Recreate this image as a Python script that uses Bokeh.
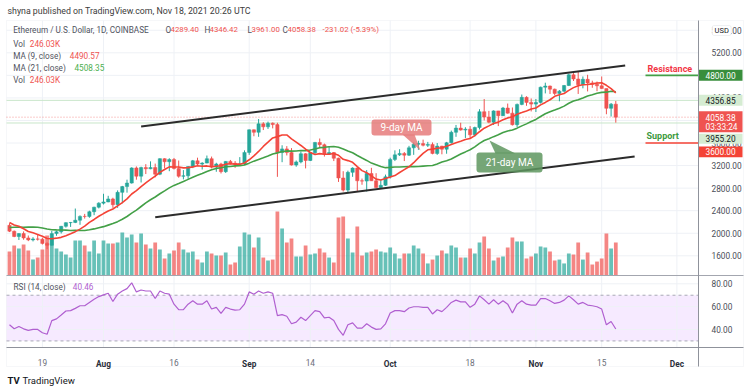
import numpy as np
import pandas as pd
from bokeh.plotting import figure
from bokeh.models import ColumnDataSource, Range1d, FixedTicker, BoxAnnotation, Label, LinearAxis
from bokeh.embed import file_html
from bokeh.resources import INLINE

# ---------------- data (ETH/USD daily, Coinbase) ----------------
start_date = "2021-07-12"

opens = [2141, 2036, 1942, 1994, 1917, 1882, 1899, 1895, 1820, 1787,
         1994, 2026, 2123, 2188, 2191, 2231, 2299, 2298, 2382, 2462,
         2534, 2555, 2608, 2506, 2725, 2827, 2890, 3158, 3012, 3164,
         3143, 3165, 3048, 3323, 3268, 3307, 3149, 3011, 3018, 3183,
         3285, 3226, 3244, 3322, 3173, 3228, 3092, 3274, 3242, 3225,
         3227, 3433, 3834, 3790, 3940, 3887, 3952, 3927, 3431, 3496,
         3430, 3209, 3265, 3410, 3290, 3428, 3610, 3570, 3400, 3430,
         3330, 2980, 2765, 3080, 3155, 2930, 2925, 3060, 2930, 2810,
         2850, 3000, 3310, 3390, 3415, 3385, 3515, 3580, 3590, 3560,
         3575, 3415, 3545, 3490, 3605, 3790, 3865, 3830, 3845, 3745,
         3875, 4155, 4060, 3970, 4170, 4085, 4220, 4130, 3925, 4285,
         4410, 4320, 4290, 4320, 4590, 4610, 4555, 4480, 4520, 4620,
         4810, 4735, 4635, 4730, 4665, 4642, 4615, 4565, 4215, 4289.40]

highs = [2178, 2048, 2000, 2033, 1960, 1930, 1985, 1920, 1840, 2040,
         2044, 2130, 2195, 2200, 2438, 2317, 2343, 2400, 2470, 2550,
         2700, 2664, 2630, 2760, 2840, 2950, 3170, 3185, 3180, 3225,
         3275, 3235, 3330, 3330, 3330, 3335, 3290, 3120, 3190, 3300,
         3340, 3260, 3378, 3360, 3250, 3250, 3280, 3300, 3280, 3350,
         3470, 3840, 3840, 4025, 3970, 3980, 3965, 3960, 3560, 3545,
         3510, 3290, 3450, 3420, 3440, 3620, 3680, 3590, 3530, 3440,
         3340, 3100, 3110, 3170, 3170, 2970, 3120, 3160, 3065, 2950,
         3040, 3340, 3470, 3490, 3440, 3550, 3610, 3640, 3660, 3620,
         3610, 3600, 3550, 3620, 3820, 3920, 3960, 3880, 3900, 3890,
         4200, 4380, 4170, 4180, 4170, 4240, 4300, 4230, 4300, 4460,
         4430, 4390, 4380, 4600, 4670, 4620, 4565, 4540, 4630, 4830,
         4840, 4870, 4780, 4810, 4705, 4690, 4780, 4565, 4310, 4346.42]

lows = [2021, 1930, 1880, 1885, 1860, 1855, 1870, 1800, 1718, 1780,
        1955, 1995, 2100, 2112, 2180, 2150, 2260, 2274, 2320, 2440,
        2510, 2550, 2450, 2450, 2530, 2720, 2880, 2950, 2900, 3050,
        3135, 2990, 3030, 3150, 3100, 3130, 2985, 2955, 2950, 3155,
        3200, 3130, 3240, 3150, 3090, 3060, 3070, 3220, 3160, 3200,
        3210, 3390, 3720, 3710, 3830, 3850, 3860, 3000, 3260, 3380,
        3200, 3180, 3240, 3150, 3280, 3400, 3510, 3360, 3390, 3280,
        2910, 2740, 2720, 3000, 2750, 2860, 2740, 2930, 2800, 2790,
        2840, 2970, 3280, 3370, 3280, 3370, 3390, 3480, 3540, 3530,
        3400, 3390, 3400, 3410, 3590, 3710, 3820, 3690, 3680, 3715,
        3840, 4000, 3950, 3920, 3900, 4080, 4120, 3910, 3880, 4270,
        4260, 4160, 4150, 4300, 4480, 4470, 4450, 4340, 4500, 4610,
        4700, 4470, 4570, 4515, 4580, 4520, 4560, 4110, 4070, 3961.00]

closes = [2036, 1942, 1994, 1917, 1882, 1899, 1895, 1820, 1787, 1994,
          2026, 2123, 2188, 2191, 2231, 2299, 2298, 2382, 2462, 2534,
          2555, 2608, 2506, 2725, 2827, 2890, 3158, 3012, 3164, 3143,
          3165, 3048, 3323, 3268, 3307, 3149, 3011, 3018, 3183, 3285,
          3226, 3244, 3322, 3173, 3228, 3092, 3274, 3242, 3225, 3227,
          3433, 3834, 3790, 3940, 3887, 3952, 3927, 3431, 3496, 3430,
          3209, 3265, 3410, 3290, 3428, 3610, 3570, 3400, 3430, 3330,
          2980, 2765, 3080, 3155, 2930, 2925, 3060, 2930, 2810, 2850,
          3000, 3310, 3390, 3415, 3385, 3515, 3580, 3590, 3560, 3575,
          3415, 3545, 3490, 3605, 3790, 3865, 3830, 3845, 3745, 3875,
          4155, 4060, 3970, 4170, 4085, 4220, 4130, 3925, 4285, 4410,
          4320, 4290, 4320, 4590, 4610, 4555, 4480, 4520, 4620, 4810,
          4735, 4635, 4730, 4665, 4642, 4615, 4565, 4215, 4289.40, 4058.38]

# closes of the 20 sessions before the window (for the moving averages)
closes_before = [1870, 1970, 1990, 1810, 1830, 1980, 2085, 2165, 2275, 2110,
                 2150, 2225, 2320, 2200, 2325, 2315, 2115, 2145, 2110, 2140]

volumes_k = [179, 224, 201, 231, 187, 119, 134, 194, 299, 284,
             201, 179, 157, 134, 261, 261, 224, 179, 261, 164,
             261, 239, 239, 246, 321, 284, 306, 246, 313, 231,
             201, 246, 194, 127, 164, 187, 246, 194, 172, 179,
             119, 97, 179, 164, 149, 149, 172, 82, 97, 216,
             321, 306, 209, 284, 134, 112, 119, 478, 351, 246,
             276, 142, 142, 224, 157, 164, 201, 172, 134, 97,
             433, 440, 276, 172, 366, 149, 172, 179, 194, 179,
             172, 209, 164, 127, 164, 164, 224, 201, 164, 90,
             119, 149, 187, 164, 224, 209, 134, 134, 201, 164,
             246, 291, 201, 112, 134, 142, 209, 284, 254, 254,
             127, 142, 164, 216, 209, 179, 112, 119, 90, 164,
             157, 246, 119, 172, 82, 104, 127, 313, 201, 246.03]

rsi_values = [44.1, 40.6, 42.7, 40.6, 39.2, 40.1, 40.1, 37.2, 35.8, 47.8,
              49.3, 52.7, 56.2, 56.5, 58.5, 60.8, 60.8, 63.7, 66.5, 68.8,
              70.3, 71.7, 64.5, 70.9, 73.7, 75.8, 80.9, 72.9, 74.6, 73.7,
              73.7, 67.1, 73.7, 71.7, 70.9, 62.2, 57.3, 57.3, 62.2, 65.1,
              62.2, 62.2, 65.1, 57.9, 59.4, 54.2, 59.4, 57.9, 57.0, 57.3,
              62.2, 72.9, 70.9, 73.7, 71.7, 72.9, 71.7, 52.2, 53.0, 51.6,
              45.0, 46.4, 50.7, 47.8, 52.2, 56.5, 55.6, 50.1, 50.7, 47.8,
              40.1, 34.9, 44.1, 45.8, 41.2, 41.2, 45.0, 42.1, 40.1, 40.6,
              45.0, 54.5, 56.5, 56.5, 55.6, 58.8, 59.9, 59.9, 59.4, 59.4,
              53.6, 57.3, 55.6, 59.4, 63.7, 65.7, 64.2, 64.2, 59.4, 62.2,
              69.4, 66.0, 62.2, 66.0, 62.2, 65.1, 62.2, 54.5, 62.2, 65.1,
              62.2, 61.4, 61.4, 67.1, 67.1, 65.1, 62.8, 63.7, 65.7, 69.4,
              66.0, 62.2, 63.7, 61.4, 60.8, 59.9, 57.9, 44.1, 47.0, 40.46]

# legend readings shown in the header
legend_ma9 = 4490.57
legend_ma21 = 4508.35

day_tick_dates = ["2021-07-19", "2021-08-16", "2021-09-14", "2021-10-18", "2021-11-15"]
day_tick_labels = ["19", "16", "14", "18", "15"]
month_tick_dates = ["2021-08-01", "2021-09-01", "2021-10-01", "2021-11-01", "2021-12-01"]
month_tick_labels = ["Aug", "Sep", "Oct", "Nov", "Dec"]
price_ticks = [1600, 2000, 2400, 2800, 3200, 3600, 4000, 4400, 4800, 5200, 5600]
rsi_ticks = [40, 60, 80]
rsi_band = [30, 70]

# annotation levels / lines
resistance_level = 4800
support_level = 3600
level_lines = [4356.85, 3955.20]
last_price = 4058.38
channel_upper_dates = ["2021-08-09", "2021-11-20"]
channel_upper_prices = [3893, 4975]
channel_lower_dates = ["2021-08-12", "2021-11-22"]
channel_lower_prices = [2285, 3361]

for arr in (opens, highs, lows, closes, volumes_k, rsi_values):
    assert len(arr) == 130, len(arr)

# ---------------- geometry (plot frame fills the whole canvas) ----------------
W, H = 748, 390
DAY0_PX, PX_PER_DAY = 9.0, 4.7            # x pixel of first session, pixels per day
PRICE_REF, PRICE_REF_PY, PX_PER_PRICE = 5200.0, 52.3, 0.056389
RSI_REF, RSI_REF_PY, PX_PER_RSI = 80.0, 283.3, 1.1425
VOL_ZERO_PY, PX_PER_VOL = 275.0, 0.134

XA, XB = (0 - DAY0_PX) / PX_PER_DAY, (W - DAY0_PX) / PX_PER_DAY
PT = PRICE_REF + PRICE_REF_PY / PX_PER_PRICE
PB = PRICE_REF - (H - PRICE_REF_PY) / PX_PER_PRICE
RT = RSI_REF + RSI_REF_PY / PX_PER_RSI
RB = RSI_REF - (H - RSI_REF_PY) / PX_PER_RSI
VT = VOL_ZERO_PY / PX_PER_VOL
VB = -(H - VOL_ZERO_PY) / PX_PER_VOL

CHART_L, CHART_R, OUTER_R = 6, 698, 743
PANEL_T, PANEL_SEP, PANEL_B, CHART_B = 20, 275, 347, 366


def X(px):
    return XA + px * (XB - XA) / W


def Y(py):
    return PT - py * (PT - PB) / H


def PY(price):
    return (PT - price) * H / (PT - PB)


def rsi_in_price(r):
    return PB + (r - RB) / (RT - RB) * (PT - PB)


start = pd.Timestamp(start_date)
dates = pd.date_range(start_date, periods=len(closes), freq="D")
xs = np.asarray((dates - start).days, dtype=float)


def day(d):
    return float((pd.Timestamp(d) - start).days)


UP, DOWN = "#26a69a", "#ef5350"
o = np.array(opens, float)
c = np.array(closes, float)
colors = [UP if cc >= oo else DOWN for oo, cc in zip(o, c)]
all_c = pd.Series(closes_before + list(closes), dtype=float)
ma9 = all_c.rolling(9).mean().to_numpy()[len(closes_before):]
ma21 = all_c.rolling(21).mean().to_numpy()[len(closes_before):]

src = ColumnDataSource(dict(
    x=xs, open=o, close=c, high=highs, low=lows,
    top=np.maximum(o, c), bot=np.minimum(o, c), color=colors,
    vol=volumes_k, rsi=rsi_values, ma9=ma9, ma21=ma21))

p = figure(width=W, height=H, x_range=Range1d(XA, XB), y_range=Range1d(PB, PT),
           y_axis_location="right", output_backend="svg", toolbar_location=None,
           title=None, min_border=0, min_border_left=0, min_border_right=0,
           min_border_top=0, min_border_bottom=0,
           background_fill_color="white", border_fill_color="white")
p.outline_line_color = None
p.extra_y_ranges = {"vol": Range1d(VB, VT), "rsi": Range1d(RB, RT)}
p.xgrid.visible = False
p.ygrid.visible = False

FONT = "Roboto"
GRID = "#eef1f6"
AXIS = "#8f929b"
SEP = "#a3a6af"
LABEL_COLOR = "#4a4d57"

# ---- price / RSI scale (fixed position inside the canvas)
yax = p.yaxis[0]
yax.fixed_location = X(CHART_R)
yax.bounds = (Y(CHART_B), Y(PANEL_T))
rsi_pos = [int(round(rsi_in_price(r))) for r in rsi_ticks]
yax.ticker = FixedTicker(ticks=price_ticks + rsi_pos, minor_ticks=[])
overrides = {t: f"{t:.2f}" for t in price_ticks}
overrides.update({pos: f"{r:.2f}" for pos, r in zip(rsi_pos, rsi_ticks)})
yax.major_label_overrides = overrides
yax.major_tick_line_color = None
yax.minor_tick_line_color = None
yax.major_label_standoff = 7
yax.axis_line_color = AXIS
yax.major_label_text_font = FONT
yax.major_label_text_font_size = "8.3px"
yax.major_label_text_color = LABEL_COLOR

# ---- time scale: day numbers (normal) and month names (bold)
day_pos = [int(day(d)) for d in day_tick_dates]
month_pos = [int(day(d)) for d in month_tick_dates]
xax = p.xaxis[0]
xax.fixed_location = Y(PANEL_B)
xax.bounds = (X(CHART_L), X(OUTER_R))
xax.ticker = FixedTicker(ticks=day_pos, minor_ticks=[])
xax.major_label_overrides = {t: lab for t, lab in zip(day_pos, day_tick_labels)}
xax.major_tick_line_color = None
xax.minor_tick_line_color = None
xax.major_label_standoff = 5
xax.axis_line_color = AXIS
xax.major_label_text_font = FONT
xax.major_label_text_font_size = "8.3px"
xax.major_label_text_color = "#6a6d78"

max_ = LinearAxis(fixed_location=Y(PANEL_B), ticker=FixedTicker(ticks=month_pos, minor_ticks=[]),
                  major_label_overrides={t: lab for t, lab in zip(month_pos, month_tick_labels)},
                  axis_line_color=None, major_tick_line_color=None, minor_tick_line_color=None,
                  major_label_standoff=5, major_label_text_font=FONT,
                  major_label_text_font_size="8.3px", major_label_text_font_style="bold",
                  major_label_text_color="#2a2e39")
p.add_layout(max_, "below")

all_x_pos = sorted(day_pos + month_pos)

# ---- RSI band
p.add_layout(BoxAnnotation(left=X(CHART_L), right=X(CHART_R), bottom=rsi_band[0], top=rsi_band[1],
                           y_range_name="rsi", fill_color="#9915ff", fill_alpha=0.09,
                           line_color=None, level="underlay"))

# ---- grid
n_x = len(all_x_pos)
p.segment(x0=all_x_pos, y0=[Y(PANEL_B)] * n_x, x1=all_x_pos, y1=[Y(PANEL_T)] * n_x,
          line_color=GRID, line_width=1)
p.segment(x0=[X(CHART_L)] * len(price_ticks), y0=price_ticks, x1=[X(CHART_R)] * len(price_ticks),
          y1=price_ticks, line_color=GRID, line_width=1)
p.segment(x0=[X(CHART_L)] * len(rsi_ticks), y0=rsi_ticks, x1=[X(CHART_R)] * len(rsi_ticks),
          y1=rsi_ticks, y_range_name="rsi", line_color=GRID, line_width=1)
p.segment(x0=[X(CHART_L)] * 2, y0=rsi_band, x1=[X(CHART_R)] * 2, y1=rsi_band, y_range_name="rsi",
          line_color="#a9a9b6", line_dash="3 3", line_width=1)

# ---- price level lines
p.segment(x0=[X(CHART_L)] * len(level_lines), y0=level_lines, x1=[X(CHART_R)] * len(level_lines),
          y1=level_lines, line_color="#c8e6c9", line_width=1)
p.segment(x0=[X(CHART_L)], y0=[last_price], x1=[X(CHART_R)], y1=[last_price],
          line_color="#ef5350", line_alpha=0.6, line_dash="1 2", line_width=1)

# ---- volume
p.vbar(x="x", width=0.8, top="vol", bottom=0, y_range_name="vol", source=src,
       fill_color="color", fill_alpha=0.7, line_color=None)

# ---- RSI line
p.line(x="x", y="rsi", y_range_name="rsi", source=src, line_color="#b05fd0", line_width=1.2)

# ---- candles
p.segment(x0="x", y0="low", x1="x", y1="high", source=src, line_color="color", line_width=1)
p.vbar(x="x", width=0.7, top="top", bottom="bot", source=src,
       fill_color="color", line_color="color", line_width=0.5)

# ---- moving averages
p.line(x="x", y="ma21", source=src, line_color="#43a047", line_width=1.6)
p.line(x="x", y="ma9", source=src, line_color="#f44336", line_width=1.6)

# ---- channel
p.line(x=[day(d) for d in channel_upper_dates], y=channel_upper_prices,
       line_color="#2b2b2b", line_width=2)
p.line(x=[day(d) for d in channel_lower_dates], y=channel_lower_prices,
       line_color="#2b2b2b", line_width=2)

# ---- resistance / support marks
p.segment(x0=[X(645)], y0=[resistance_level], x1=[X(CHART_R)], y1=[resistance_level],
          line_color="#43a047", line_width=1.6)
p.segment(x0=[X(645)], y0=[support_level], x1=[X(CHART_R)], y1=[support_level],
          line_color="#f44336", line_width=1.6)

# ---- callout pointers
p.patch(x=[X(402), X(414), X(420)], y=[Y(134), Y(134), Y(150)],
        fill_color="#e57373", fill_alpha=0.8, line_color=None)
p.patch(x=[X(495), X(515), X(489)], y=[Y(153), Y(153), Y(140)],
        fill_color="#5e975f", fill_alpha=0.85, line_color=None)

# ---- panel separator
p.segment(x0=[X(CHART_L)], y0=[Y(PANEL_SEP)], x1=[X(OUTER_R)], y1=[Y(PANEL_SEP)],
          line_color=SEP, line_width=1)


def box(l, r, t, b, fill=None, alpha=1.0, line=None, radius=0, level="annotation"):
    kw = dict(left=X(l), right=X(r), top=Y(t), bottom=Y(b),
              fill_color=fill if fill else "white", fill_alpha=alpha if fill else 0,
              line_color=line, line_width=1, level=level)
    if radius:
        kw["border_radius"] = radius
    p.add_layout(BoxAnnotation(**kw))


def text(px, py, s, color, size="8.2px", bold=False, align="left", y_data=None):
    p.add_layout(Label(x=X(px), y=(y_data if y_data is not None else Y(py)), text=s,
                       text_color=color, text_font=FONT, text_font_size=size,
                       text_font_style="bold" if bold else "normal",
                       text_align=align, text_baseline="middle"))


# outer frame of the chart
box(CHART_L, OUTER_R, PANEL_T, CHART_B, line="#e0e3eb", level="underlay")

# callout boxes
box(371, 431, 119, 135, fill="#e57373", alpha=0.8, radius=3)
text(401, 127, "9-day MA", "white", size="10px", align="center")
box(476, 542, 152, 172, fill="#5e975f", alpha=0.85, radius=3)
text(509, 162, "21-day MA", "white", size="10px", align="center")

text(647, 68, "Resistance", "#f23645", size="9px", bold=True)
text(646, 135, "Support", "#3d9a40", size="9px", bold=True)

# price-scale labels
AX_L, AX_R, TX = CHART_R + 0.5, OUTER_R - 1, CHART_R + 7
c48 = PY(resistance_level)
box(AX_L, AX_R, c48 - 5.5, c48 + 5.5, fill="#388e3c")
text(TX, 0, f"{resistance_level:.2f}", "white", size="8.3px", y_data=resistance_level)
c43 = PY(level_lines[0])
box(AX_L, AX_R, c43 - 5.5, c43 + 5.5, fill="#d5ecd2")
text(TX, 0, f"{level_lines[0]:.2f}", "#131722", size="8.3px", y_data=level_lines[0])
cl = PY(last_price)
box(AX_L, AX_R, cl - 6, cl + 15, fill="#ef5350")
text(TX, 0, f"{last_price:.2f}", "white", size="8.3px", y_data=last_price)
text(TX, cl + 10.3, "03:33:24", "white", size="8.3px")
box(AX_L, AX_R, 133.3, 143.3, fill="#d5ecd2")
text(TX, 138.3, f"{level_lines[1]:.2f}", "#131722", size="8.3px")
box(AX_L, AX_R, 146, 156.7, fill="#f44336")
text(TX, 151.3, f"{support_level:.2f}", "white", size="8.3px")
box(711.7, 730.7, 25, 35, fill="white", line="#c9ccd4", radius=2)
text(721.2, 30, "USD", "#131722", size="7.5px", align="center")

# header
text(7, 10.7, "shyna published on TradingView.com, Nov 18, 2021 20:26 UTC", "#3b3b3b", size="8.8px")
GRAY, RED, GREEN = "#50535e", "#ef5350", "#4caf50"
L1 = 29.3
text(12.7, L1, "Ethereum / U.S. Dollar, 1D, COINBASE", GRAY)
for lx, letter, vx, val in [(165, "O", 170, f"{opens[-1]:.2f}"), (204, "H", 209, f"{highs[-1]:.2f}"),
                            (247, "L", 251, f"{lows[-1]:.2f}"), (282, "C", 287, f"{closes[-1]:.2f}")]:
    text(lx, L1, letter, GRAY)
    text(vx, L1, val, RED, size="7.8px")
chg = closes[-1] - opens[-1]
text(322, L1, f"{chg:.2f} ({chg / opens[-1] * 100:.2f}%)", RED, size="7.8px")
text(12.7, 43, "Vol", GRAY)
text(29.3, 43, f"{volumes_k[-1]:.2f}K", RED)
text(12.7, 55, "MA (9, close)", GRAY)
text(69.3, 55, f"{legend_ma9:.2f}", RED)
text(12.7, 67, "MA (21, close)", GRAY)
text(74, 67, f"{legend_ma21:.2f}", GREEN)
text(12.7, 79.5, "Vol", GRAY)
text(29.3, 79.5, f"{volumes_k[-1]:.2f}K", RED)
text(13, 286, "RSI (14, close)", GRAY)
text(72.3, 286, f"{rsi_values[-1]:.2f}", "#b05fd0")

# footer logo
text(7, 380, "TV", "#131722", size="9.5px", bold=True)
text(22, 380, "TradingView", "#131722", size="9.5px")

open("out.html", "w").write(file_html(p, INLINE))
